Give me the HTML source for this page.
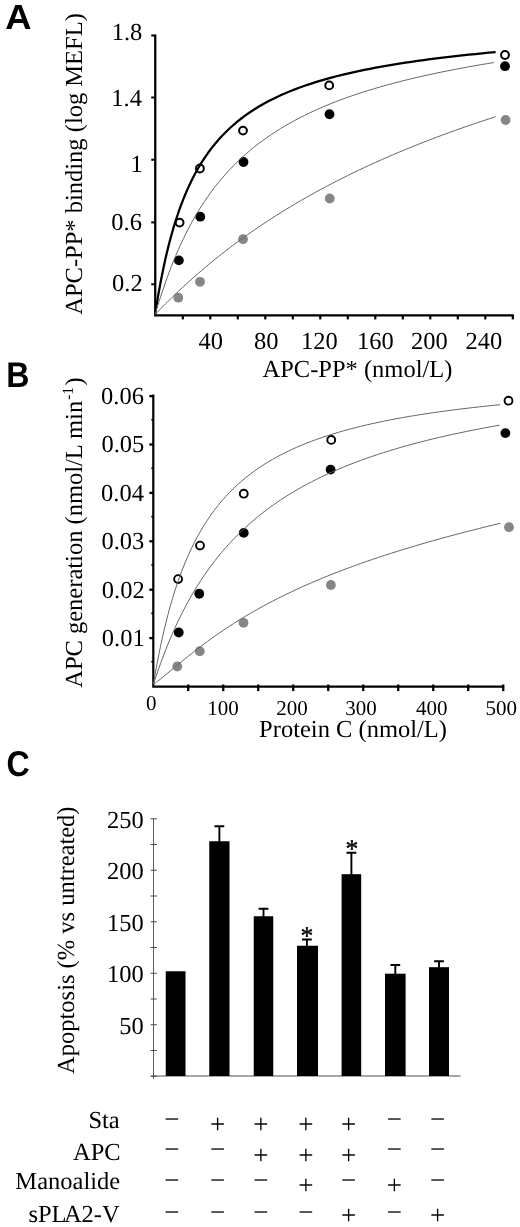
<!DOCTYPE html>
<html lang="en"><head><meta charset="utf-8"><title>Figure</title>
<style>html,body{margin:0;padding:0;background:#fff}svg{display:block}</style>
</head><body>
<svg width="520" height="1227" viewBox="0 0 520 1227" text-rendering="geometricPrecision">
<rect width="520" height="1227" fill="#fff"/>
<g font-family="'Liberation Sans', Arial, Helvetica, sans-serif" font-weight="700" fill="#000">
<text transform="translate(5.23,29.1) scale(1.055,1.01)" x="0" y="0" font-size="34.5">A</text>
<text transform="translate(6.29,386.9) scale(0.93,1.035)" x="0" y="0" font-size="34.5">B</text>
<text transform="translate(6.50,775.5) scale(0.93,1.035)" x="0" y="0" font-size="34.5">C</text>
</g>
<g id="panelA">
<path d="M155.25 34.5 V316.5 M154.1 315.4 H513.9" fill="none" stroke="#000" stroke-width="2.3"/>
<path d="M151.25 35.50 H155" stroke="#000" stroke-width="2"/>
<path d="M151.25 97.50 H155" stroke="#000" stroke-width="2"/>
<path d="M151.25 159.75 H155" stroke="#000" stroke-width="2"/>
<path d="M151.25 222.40 H155" stroke="#000" stroke-width="2"/>
<path d="M151.25 284.30 H155" stroke="#000" stroke-width="2"/>
<path d="M182.80 315 V319.4" stroke="#000" stroke-width="2.2"/>
<path d="M210.30 315 V319.4" stroke="#000" stroke-width="2.2"/>
<path d="M237.80 315 V319.4" stroke="#000" stroke-width="2.2"/>
<path d="M265.30 315 V319.4" stroke="#000" stroke-width="2.2"/>
<path d="M292.80 315 V319.4" stroke="#000" stroke-width="2.2"/>
<path d="M320.30 315 V319.4" stroke="#000" stroke-width="2.2"/>
<path d="M347.80 315 V319.4" stroke="#000" stroke-width="2.2"/>
<path d="M375.30 315 V319.4" stroke="#000" stroke-width="2.2"/>
<path d="M402.80 315 V319.4" stroke="#000" stroke-width="2.2"/>
<path d="M430.30 315 V319.4" stroke="#000" stroke-width="2.2"/>
<path d="M457.80 315 V319.4" stroke="#000" stroke-width="2.2"/>
<path d="M485.30 315 V319.4" stroke="#000" stroke-width="2.2"/>
<path d="M512.80 315 V319.4" stroke="#000" stroke-width="2.2"/>
<g font-family="'Liberation Serif', 'Times New Roman', Times, serif" fill="#000">
<text x="111.74" y="39.90" font-size="24.5">1.8</text>
<text x="111.36" y="105.50" font-size="24.5">1.4</text>
<text x="130.50" y="171.70" font-size="24.5">1</text>
<text x="111.36" y="230.00" font-size="24.5">0.6</text>
<text x="112.12" y="291.25" font-size="24.5">0.2</text>
<text x="198.44" y="348.75" font-size="24.5">40</text>
<text x="254.00" y="348.75" font-size="24.5">80</text>
<text x="301.05" y="348.75" font-size="24.5">120</text>
<text x="357.05" y="348.75" font-size="24.5">160</text>
<text x="411.12" y="348.75" font-size="24.5">200</text>
<text x="465.38" y="348.75" font-size="24.5">240</text>
<text x="262.50" y="377.00" font-size="24.5">APC-PP* (nmol/L)</text>
<text transform="translate(82,314.70) rotate(-90)" font-size="24.5">APC-PP* binding (log MEFL)</text>
</g>
<circle cx="178.30" cy="297.70" r="4.9" fill="#868686"/>
<circle cx="200.00" cy="281.80" r="4.9" fill="#868686"/>
<circle cx="243.00" cy="239.20" r="4.9" fill="#868686"/>
<circle cx="329.75" cy="198.50" r="4.9" fill="#868686"/>
<circle cx="505.60" cy="120.00" r="4.9" fill="#868686"/>
<circle cx="178.90" cy="260.40" r="4.9" fill="#000"/>
<circle cx="200.25" cy="216.70" r="4.9" fill="#000"/>
<circle cx="243.50" cy="162.00" r="4.9" fill="#000"/>
<circle cx="329.50" cy="114.25" r="4.9" fill="#000"/>
<circle cx="505.00" cy="66.20" r="4.9" fill="#000"/>
<circle cx="179.60" cy="222.60" r="3.9" fill="#fff" stroke="#000" stroke-width="2"/>
<circle cx="199.90" cy="168.50" r="3.9" fill="#fff" stroke="#000" stroke-width="2"/>
<circle cx="243.00" cy="130.60" r="3.9" fill="#fff" stroke="#000" stroke-width="2"/>
<circle cx="329.20" cy="85.40" r="3.9" fill="#fff" stroke="#000" stroke-width="2"/>
<circle cx="505.00" cy="55.00" r="3.9" fill="#fff" stroke="#000" stroke-width="2"/>
<path d="M155.00 315.00 L155.31 313.08 L155.93 309.15 L156.78 303.90 L157.82 297.68 L159.03 290.74 L160.40 283.28 L161.91 275.47 L163.56 267.45 L165.33 259.33 L167.23 251.20 L169.24 243.13 L171.37 235.19 L173.60 227.41 L175.95 219.84 L178.39 212.49 L180.94 205.39 L183.58 198.55 L186.31 191.96 L189.14 185.64 L192.06 179.58 L195.07 173.78 L198.17 168.23 L201.35 162.93 L204.62 157.86 L207.97 153.02 L211.40 148.40 L214.91 143.99 L218.50 139.79 L222.16 135.77 L225.91 131.94 L229.73 128.28 L233.62 124.78 L237.59 121.44 L241.63 118.25 L245.74 115.20 L249.93 112.29 L254.18 109.50 L258.50 106.83 L262.90 104.27 L267.36 101.83 L271.88 99.48 L276.48 97.23 L281.14 95.08 L285.87 93.01 L290.66 91.02 L295.51 89.11 L300.43 87.28 L305.41 85.52 L310.46 83.82 L315.57 82.19 L320.73 80.62 L325.96 79.11 L331.26 77.65 L336.61 76.24 L342.02 74.89 L347.49 73.58 L353.02 72.32 L358.60 71.10 L364.25 69.92 L369.95 68.78 L375.71 67.68 L381.53 66.62 L387.41 65.59 L393.34 64.59 L399.32 63.62 L405.36 62.69 L411.46 61.78 L417.61 60.90 L423.82 60.04 L430.08 59.21 L436.39 58.41 L442.76 57.63 L449.18 56.87 L455.66 56.13 L462.18 55.41 L468.76 54.71 L475.40 54.03 L482.08 53.37 L488.81 52.73 L495.60 52.10" fill="none" stroke="#000" stroke-width="2.25" stroke-linejoin="round"/>
<path d="M155.00 314.50 L155.31 313.58 L155.93 311.62 L156.77 308.92 L157.81 305.60 L159.01 301.78 L160.37 297.54 L161.88 292.94 L163.52 288.06 L165.28 282.94 L167.17 277.65 L169.17 272.21 L171.29 266.67 L173.52 261.07 L175.85 255.43 L178.28 249.78 L180.81 244.15 L183.44 238.56 L186.17 233.02 L188.98 227.55 L191.89 222.16 L194.88 216.86 L197.97 211.66 L201.13 206.56 L204.38 201.58 L207.72 196.71 L211.13 191.96 L214.63 187.32 L218.20 182.81 L221.85 178.42 L225.57 174.14 L229.38 169.99 L233.25 165.95 L237.20 162.03 L241.22 158.22 L245.32 154.52 L249.48 150.93 L253.71 147.44 L258.02 144.06 L262.39 140.79 L266.83 137.60 L271.33 134.52 L275.91 131.52 L280.55 128.61 L285.25 125.79 L290.02 123.06 L294.85 120.40 L299.75 117.82 L304.71 115.32 L309.73 112.89 L314.81 110.53 L319.96 108.23 L325.16 106.00 L330.43 103.84 L335.75 101.74 L341.14 99.69 L346.58 97.70 L352.09 95.76 L357.65 93.88 L363.27 92.05 L368.94 90.26 L374.68 88.53 L380.47 86.84 L386.31 85.19 L392.22 83.58 L398.17 82.02 L404.19 80.49 L410.26 79.00 L416.38 77.55 L422.56 76.13 L428.79 74.75 L435.07 73.40 L441.41 72.08 L447.80 70.79 L454.24 69.53 L460.74 68.30 L467.29 67.09 L473.89 65.92 L480.54 64.76 L487.25 63.64 L494.00 62.53" fill="none" stroke="#666666" stroke-width="1"/>
<path d="M155.00 314.50 L155.31 314.19 L155.93 313.56 L156.78 312.69 L157.82 311.63 L159.03 310.39 L160.40 309.00 L161.91 307.47 L163.56 305.82 L165.33 304.04 L167.23 302.16 L169.24 300.17 L171.37 298.09 L173.60 295.92 L175.95 293.68 L178.39 291.35 L180.94 288.96 L183.58 286.51 L186.31 283.99 L189.14 281.43 L192.06 278.81 L195.07 276.14 L198.17 273.44 L201.35 270.70 L204.62 267.92 L207.97 265.11 L211.40 262.28 L214.91 259.42 L218.50 256.54 L222.16 253.64 L225.91 250.72 L229.73 247.80 L233.62 244.86 L237.59 241.91 L241.63 238.96 L245.74 236.00 L249.93 233.05 L254.18 230.09 L258.50 227.13 L262.90 224.17 L267.36 221.23 L271.88 218.28 L276.48 215.35 L281.14 212.42 L285.87 209.50 L290.66 206.60 L295.51 203.70 L300.43 200.82 L305.41 197.96 L310.46 195.11 L315.57 192.27 L320.73 189.46 L325.96 186.66 L331.26 183.87 L336.61 181.11 L342.02 178.36 L347.49 175.64 L353.02 172.93 L358.60 170.25 L364.25 167.58 L369.95 164.94 L375.71 162.32 L381.53 159.72 L387.41 157.14 L393.34 154.58 L399.32 152.05 L405.36 149.54 L411.46 147.05 L417.61 144.58 L423.82 142.14 L430.08 139.71 L436.39 137.32 L442.76 134.94 L449.18 132.59 L455.66 130.26 L462.18 127.95 L468.76 125.66 L475.40 123.40 L482.08 121.16 L488.81 118.94 L495.60 116.74" fill="none" stroke="#666666" stroke-width="1"/>
</g>
<g id="panelB">
<path d="M153.3 394.6 V687.6 M152.2 686.55 H504.1" fill="none" stroke="#000" stroke-width="2.2"/>
<path d="M149.3 396.10 H153" stroke="#000" stroke-width="2.3"/>
<path d="M149.3 444.50 H153" stroke="#000" stroke-width="2.3"/>
<path d="M149.3 492.90 H153" stroke="#000" stroke-width="2.3"/>
<path d="M149.3 541.30 H153" stroke="#000" stroke-width="2.3"/>
<path d="M149.3 589.70 H153" stroke="#000" stroke-width="2.3"/>
<path d="M149.3 638.10 H153" stroke="#000" stroke-width="2.3"/>
<path d="M151.3 419.80 H153" stroke="#000" stroke-width="1.6"/>
<path d="M151.3 468.20 H153" stroke="#000" stroke-width="1.6"/>
<path d="M151.3 516.60 H153" stroke="#000" stroke-width="1.6"/>
<path d="M151.3 565.00 H153" stroke="#000" stroke-width="1.6"/>
<path d="M151.3 613.40 H153" stroke="#000" stroke-width="1.6"/>
<path d="M151.3 661.80 H153" stroke="#000" stroke-width="1.6"/>
<path d="M188.25 684.5 V691.1" stroke="#000" stroke-width="2.3"/>
<path d="M223.25 684.5 V691.1" stroke="#000" stroke-width="2.3"/>
<path d="M258.25 684.5 V691.1" stroke="#000" stroke-width="2.3"/>
<path d="M293.25 684.5 V691.1" stroke="#000" stroke-width="2.3"/>
<path d="M328.25 684.5 V691.1" stroke="#000" stroke-width="2.3"/>
<path d="M363.25 684.5 V691.1" stroke="#000" stroke-width="2.3"/>
<path d="M398.25 684.5 V691.1" stroke="#000" stroke-width="2.3"/>
<path d="M433.25 684.5 V691.1" stroke="#000" stroke-width="2.3"/>
<path d="M468.25 684.5 V691.1" stroke="#000" stroke-width="2.3"/>
<path d="M503.25 684.5 V691.1" stroke="#000" stroke-width="2.3"/>
<g font-family="'Liberation Serif', 'Times New Roman', Times, serif" fill="#000">
<text x="101.11" y="404.00" font-size="24.5">0.06</text>
<text x="101.49" y="452.40" font-size="24.5">0.05</text>
<text x="101.11" y="500.80" font-size="24.5">0.04</text>
<text x="101.49" y="549.20" font-size="24.5">0.03</text>
<text x="101.87" y="597.60" font-size="24.5">0.02</text>
<text x="101.87" y="646.00" font-size="24.5">0.01</text>
<text x="146.00" y="710.00" font-size="21">0</text>
<text x="207.26" y="714.80" font-size="21">100</text>
<text x="276.15" y="714.80" font-size="21">200</text>
<text x="345.34" y="714.80" font-size="21">300</text>
<text x="416.01" y="714.80" font-size="21">400</text>
<text x="485.49" y="714.80" font-size="21">500</text>
<text x="259.12" y="737.00" font-size="24.5">Protein C (nmol/L)</text>
<text transform="translate(82,687.80) rotate(-90)" font-size="24.5">APC generation (nmol/L min<tspan font-size="15.5" dy="-9" dx="1">-1</tspan><tspan dy="9" dx="1.4">)</tspan></text>
</g>
<circle cx="177.25" cy="666.50" r="4.9" fill="#868686"/>
<circle cx="199.75" cy="651.25" r="4.9" fill="#868686"/>
<circle cx="243.50" cy="622.80" r="4.9" fill="#868686"/>
<circle cx="330.90" cy="585.00" r="4.9" fill="#868686"/>
<circle cx="509.00" cy="527.20" r="4.9" fill="#868686"/>
<circle cx="178.75" cy="632.50" r="4.9" fill="#000"/>
<circle cx="199.25" cy="593.75" r="4.9" fill="#000"/>
<circle cx="243.75" cy="532.90" r="4.9" fill="#000"/>
<circle cx="330.60" cy="469.60" r="4.9" fill="#000"/>
<circle cx="505.40" cy="433.10" r="4.9" fill="#000"/>
<circle cx="178.10" cy="579.10" r="3.95" fill="#fff" stroke="#000" stroke-width="1.9"/>
<circle cx="200.00" cy="545.60" r="3.95" fill="#fff" stroke="#000" stroke-width="1.9"/>
<circle cx="243.75" cy="493.70" r="3.95" fill="#fff" stroke="#000" stroke-width="1.9"/>
<circle cx="331.25" cy="439.90" r="3.95" fill="#fff" stroke="#000" stroke-width="1.9"/>
<circle cx="508.50" cy="400.70" r="3.95" fill="#fff" stroke="#000" stroke-width="1.9"/>
<path d="M153.50 684.00 L153.81 682.16 L154.45 678.43 L155.31 673.46 L156.37 667.55 L157.60 660.94 L158.99 653.80 L160.53 646.27 L162.20 638.48 L164.01 630.54 L165.94 622.52 L167.99 614.51 L170.15 606.55 L172.43 598.70 L174.81 590.98 L177.30 583.44 L179.88 576.10 L182.57 568.96 L185.36 562.05 L188.23 555.36 L191.21 548.91 L194.27 542.69 L197.42 536.70 L200.65 530.94 L203.98 525.41 L207.38 520.10 L210.87 515.00 L214.45 510.11 L218.10 505.42 L221.83 500.93 L225.64 496.62 L229.52 492.49 L233.48 488.53 L237.52 484.73 L241.63 481.09 L245.81 477.61 L250.07 474.26 L254.40 471.05 L258.80 467.98 L263.26 465.02 L267.80 462.19 L272.41 459.47 L277.08 456.86 L281.82 454.35 L286.63 451.94 L291.51 449.62 L296.45 447.39 L301.45 445.25 L306.52 443.19 L311.65 441.21 L316.85 439.30 L322.11 437.47 L327.43 435.70 L332.81 433.99 L338.25 432.35 L343.76 430.77 L349.32 429.24 L354.95 427.77 L360.63 426.35 L366.37 424.98 L372.18 423.66 L378.04 422.38 L383.95 421.15 L389.93 419.96 L395.96 418.81 L402.05 417.69 L408.20 416.62 L414.40 415.58 L420.66 414.57 L426.98 413.60 L433.34 412.66 L439.77 411.75 L446.25 410.86 L452.78 410.01 L459.37 409.18 L466.01 408.38 L472.70 407.60 L479.45 406.85 L486.24 406.12 L493.10 405.42 L500.00 404.73" fill="none" stroke="#666666" stroke-width="1"/>
<path d="M153.50 684.00 L153.81 683.07 L154.45 681.16 L155.31 678.57 L156.37 675.43 L157.60 671.84 L158.98 667.88 L160.52 663.59 L162.19 659.04 L163.99 654.26 L165.92 649.31 L167.96 644.21 L170.12 639.01 L172.39 633.72 L174.77 628.38 L177.25 623.00 L179.84 617.62 L182.52 612.24 L185.30 606.88 L188.17 601.56 L191.14 596.29 L194.20 591.07 L197.34 585.93 L200.57 580.86 L203.89 575.87 L207.29 570.97 L210.77 566.15 L214.34 561.44 L217.99 556.82 L221.71 552.29 L225.51 547.87 L229.39 543.55 L233.34 539.33 L237.37 535.21 L241.48 531.19 L245.65 527.26 L249.90 523.44 L254.22 519.71 L258.61 516.08 L263.07 512.54 L267.60 509.10 L272.20 505.74 L276.87 502.48 L281.60 499.29 L286.40 496.20 L291.27 493.18 L296.20 490.25 L301.19 487.39 L306.25 484.61 L311.38 481.91 L316.56 479.27 L321.81 476.71 L327.12 474.22 L332.50 471.79 L337.93 469.42 L343.43 467.12 L348.98 464.88 L354.60 462.69 L360.27 460.56 L366.01 458.49 L371.80 456.48 L377.65 454.51 L383.56 452.59 L389.52 450.73 L395.54 448.91 L401.62 447.14 L407.76 445.41 L413.95 443.72 L420.20 442.08 L426.50 440.48 L432.86 438.91 L439.27 437.39 L445.74 435.90 L452.26 434.45 L458.84 433.03 L465.46 431.65 L472.15 430.30 L478.88 428.98 L485.67 427.70 L492.51 426.44 L499.40 425.21" fill="none" stroke="#666666" stroke-width="1"/>
<path d="M153.50 684.00 L153.81 683.85 L154.45 683.47 L155.31 682.91 L156.37 682.16 L157.61 681.25 L159.00 680.19 L160.54 678.99 L162.21 677.64 L164.02 676.17 L165.95 674.58 L168.00 672.88 L170.17 671.08 L172.45 669.18 L174.83 667.19 L177.32 665.12 L179.92 662.98 L182.61 660.77 L185.39 658.50 L188.27 656.18 L191.25 653.81 L194.31 651.40 L197.47 648.96 L200.71 646.48 L204.04 643.98 L207.45 641.46 L210.94 638.92 L214.52 636.37 L218.17 633.82 L221.91 631.26 L225.72 628.70 L229.61 626.14 L233.58 623.58 L237.62 621.04 L241.73 618.50 L245.92 615.97 L250.18 613.46 L254.51 610.97 L258.92 608.49 L263.39 606.03 L267.93 603.58 L272.55 601.16 L277.23 598.76 L281.97 596.38 L286.79 594.02 L291.67 591.69 L296.61 589.38 L301.62 587.09 L306.70 584.82 L311.83 582.58 L317.04 580.36 L322.30 578.17 L327.63 576.00 L333.02 573.85 L338.47 571.72 L343.98 569.62 L349.55 567.54 L355.18 565.48 L360.87 563.45 L366.62 561.43 L372.43 559.44 L378.30 557.46 L384.22 555.51 L390.20 553.57 L396.24 551.66 L402.34 549.76 L408.49 547.88 L414.70 546.02 L420.97 544.18 L427.29 542.35 L433.67 540.54 L440.10 538.75 L446.58 536.97 L453.12 535.21 L459.72 533.46 L466.37 531.73 L473.07 530.01 L479.82 528.30 L486.63 526.60 L493.49 524.92 L500.40 523.25" fill="none" stroke="#666666" stroke-width="1"/>
</g>
<g id="panelC">
<path d="M151 1076 H460.5" fill="none" stroke="#8a8a8a" stroke-width="1.4"/>
<path d="M153.5 818.3 V1079.2" fill="none" stroke="#5a5a5a" stroke-width="1"/>
<path d="M150.6 1076.25 H156.8" stroke="#4a4a4a" stroke-width="1"/>
<path d="M150.6 1050.50 H156.8" stroke="#4a4a4a" stroke-width="1"/>
<path d="M150.6 1024.75 H156.8" stroke="#4a4a4a" stroke-width="1"/>
<path d="M150.6 999.00 H156.8" stroke="#4a4a4a" stroke-width="1"/>
<path d="M150.6 973.25 H156.8" stroke="#4a4a4a" stroke-width="1"/>
<path d="M150.6 947.50 H156.8" stroke="#4a4a4a" stroke-width="1"/>
<path d="M150.6 921.75 H156.8" stroke="#4a4a4a" stroke-width="1"/>
<path d="M150.6 896.00 H156.8" stroke="#4a4a4a" stroke-width="1"/>
<path d="M150.6 870.25 H156.8" stroke="#4a4a4a" stroke-width="1"/>
<path d="M150.6 844.50 H156.8" stroke="#4a4a4a" stroke-width="1"/>
<path d="M150.6 818.75 H156.8" stroke="#4a4a4a" stroke-width="1"/>
<rect x="165.75" y="971.25" width="19.75" height="104.75" fill="#000"/>
<rect x="209.25" y="841.25" width="20.25" height="234.75" fill="#000"/>
<path d="M219.38 842.25 V826.25 M214.47 826.25 H224.28" stroke="#000" stroke-width="1.9" fill="none"/>
<rect x="253.75" y="916.25" width="19.50" height="159.75" fill="#000"/>
<path d="M263.50 917.25 V908.75 M258.60 908.75 H268.40" stroke="#000" stroke-width="1.9" fill="none"/>
<rect x="297.00" y="945.75" width="21.00" height="130.25" fill="#000"/>
<path d="M306.90 946.75 V939.50 M302.00 939.50 H311.80" stroke="#000" stroke-width="1.9" fill="none"/>
<rect x="341.60" y="874.20" width="19.60" height="201.80" fill="#000"/>
<path d="M351.40 875.20 V852.80 M346.50 852.80 H356.30" stroke="#000" stroke-width="1.9" fill="none"/>
<rect x="385.00" y="973.70" width="20.60" height="102.30" fill="#000"/>
<path d="M395.30 974.70 V965.00 M390.40 965.00 H400.20" stroke="#000" stroke-width="1.9" fill="none"/>
<rect x="429.00" y="967.20" width="20.00" height="108.80" fill="#000"/>
<path d="M439.00 968.20 V961.30 M434.10 961.30 H443.90" stroke="#000" stroke-width="1.9" fill="none"/>
<g font-family="'Liberation Serif', 'Times New Roman', Times, serif" fill="#000">
<text x="107.02" y="827.75" font-size="24.5">250</text>
<text x="107.02" y="878.75" font-size="24.5">200</text>
<text x="107.02" y="930.50" font-size="24.5">150</text>
<text x="107.02" y="982.00" font-size="24.5">100</text>
<text x="119.27" y="1034.20" font-size="24.5">50</text>
<text transform="translate(74,1073.90) rotate(-90)" font-size="24.5">Apoptosis (% vs untreated)</text>
<text x="300.38" y="943.63" font-size="25.5" stroke="#000" stroke-width="0.45">*</text>
<text x="345.52" y="856.93" font-size="25.5" stroke="#000" stroke-width="0.45">*</text>
<text x="88.45" y="1127.75" font-size="24.5">Sta</text>
<text x="72.97" y="1159.50" font-size="24.5">APC</text>
<text x="15.37" y="1189.00" font-size="24.5">Manoalide</text>
<text x="28.46" y="1222" font-size="24.5">sPL<tspan dx="-2.7">A2-V</tspan></text>
<text x="164.16" y="1127.61" font-size="27">−</text>
<text x="209.91" y="1132.67" font-size="27">+</text>
<text x="253.31" y="1132.67" font-size="27">+</text>
<text x="298.16" y="1132.67" font-size="27">+</text>
<text x="341.01" y="1132.67" font-size="27">+</text>
<text x="386.71" y="1127.61" font-size="27">−</text>
<text x="429.91" y="1127.61" font-size="27">−</text>
<text x="164.16" y="1158.36" font-size="27">−</text>
<text x="209.91" y="1158.36" font-size="27">−</text>
<text x="253.31" y="1163.87" font-size="27">+</text>
<text x="298.16" y="1163.87" font-size="27">+</text>
<text x="341.01" y="1163.87" font-size="27">+</text>
<text x="386.71" y="1158.36" font-size="27">−</text>
<text x="429.91" y="1158.36" font-size="27">−</text>
<text x="164.16" y="1189.06" font-size="27">−</text>
<text x="209.91" y="1189.06" font-size="27">−</text>
<text x="253.31" y="1189.06" font-size="27">−</text>
<text x="298.16" y="1194.37" font-size="27">+</text>
<text x="341.01" y="1189.06" font-size="27">−</text>
<text x="386.71" y="1194.37" font-size="27">+</text>
<text x="429.91" y="1189.06" font-size="27">−</text>
<text x="164.16" y="1220.86" font-size="27">−</text>
<text x="209.91" y="1220.86" font-size="27">−</text>
<text x="253.31" y="1220.86" font-size="27">−</text>
<text x="298.16" y="1220.86" font-size="27">−</text>
<text x="341.01" y="1223.87" font-size="27">+</text>
<text x="386.71" y="1220.86" font-size="27">−</text>
<text x="429.91" y="1223.87" font-size="27">+</text>
</g>
</g>
</svg>
</body></html>
